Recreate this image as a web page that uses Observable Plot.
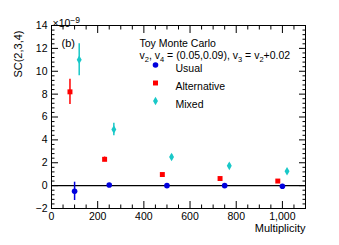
<!DOCTYPE html>
<html><head><meta charset="utf-8">
<script src="https://cdn.jsdelivr.net/npm/d3@7"></script>
<script src="https://cdn.jsdelivr.net/npm/@observablehq/plot@0.6"></script>
<style>body{margin:0;background:#fff}</style>
</head><body><div id="chart"></div>
<script>
const usualX = [100, 250, 500, 750, 1000];
const usualY = [-0.5, 0.05, 0.0, 0.0, -0.05];
const usualErr = [0.8, 0.08, 0.06, 0.06, 0.06];
const altX = [80, 230, 480, 730, 980];
const altY = [8.2, 2.3, 0.97, 0.62, 0.4];
const altErr = [1.1, 0.2, 0.08, 0.06, 0.06];
const mixX = [120, 270, 520, 770, 1020];
const mixY = [11.0, 4.9, 2.5, 1.73, 1.26];
const mixErr = [1.4, 0.55, 0.2, 0.2, 0.15];
const xTicks = [0, 200, 400, 600, 800, 1000];
const yTicks = [-2, 0, 2, 4, 6, 8, 10, 12, 14];
const seriesNames = ["Usual", "Alternative", "Mixed"];
const seriesColors = ["#0000dd", "#ff0000", "#19c8c8"];
const seriesSymbols = ["circle", "square", "diamond"];

const xMinor = d3.range(0, 1101, 50).filter(v => v % 200 !== 0);
const yMinor = d3.range(-20, 141, 4).map(v => v / 10).filter(v => Math.abs(v % 2) > 1e-9);

function rows(xs, ys, es, name) { return xs.map((x, i) => ({x, y: ys[i], e: es[i], s: name})); }
const data = [
  ...rows(usualX, usualY, usualErr, "Usual"),
  ...rows(altX, altY, altErr, "Alternative"),
  ...rows(mixX, mixY, mixErr, "Mixed")
];
const font = "Liberation Sans, Arial, Helvetica, sans-serif";
const color = {domain: seriesNames, range: seriesColors};

const marks = [
  Plot.ruleY([0], {stroke: "black", strokeWidth: 1.3}),
  Plot.ruleX(data, {x: "x", y1: d => d.y - d.e, y2: d => d.y + d.e, stroke: "s", strokeWidth: 1.5}),
  Plot.dot(data.filter(d => d.s === "Usual"), {x: "x", y: "y", fill: "s", r: 2.8, symbol: "circle", stroke: null}),
  Plot.dot(data.filter(d => d.s === "Alternative"), {x: "x", y: "y", fill: "s", r: 2.8, symbol: "square", stroke: null}),
  Plot.dot(data.filter(d => d.s === "Mixed"), {x: "x", y: "y", fill: "s", r: 2.6, symbol: "diamond", stroke: null}),
  Plot.frame({stroke: "black", strokeWidth: 1}),
  // axes: labels
  Plot.axisX({anchor: "bottom", ticks: xTicks, tickSize: 0, tickPadding: 4, label: null, fontSize: 10.5}),
  Plot.axisY({anchor: "left", ticks: yTicks, tickSize: 0, tickPadding: 4, label: null, fontSize: 10.5}),
  // major/minor ticks inward, mirrored
  Plot.axisX({anchor: "bottom", ticks: xTicks, tickSize: -7, tickFormat: () => "", label: null}),
  Plot.axisX({anchor: "bottom", ticks: xMinor, tickSize: -3.5, tickFormat: () => "", label: null}),
  Plot.axisX({anchor: "top", ticks: xTicks, tickSize: -7, tickFormat: () => "", label: null}),
  Plot.axisX({anchor: "top", ticks: xMinor, tickSize: -3.5, tickFormat: () => "", label: null}),
  Plot.axisY({anchor: "left", ticks: yTicks, tickSize: -7, tickFormat: () => "", label: null}),
  Plot.axisY({anchor: "left", ticks: yMinor, tickSize: -3.5, tickFormat: () => "", label: null}),
  Plot.axisY({anchor: "right", ticks: yTicks, tickSize: -7, tickFormat: () => "", label: null}),
  Plot.axisY({anchor: "right", ticks: yMinor, tickSize: -3.5, tickFormat: () => "", label: null}),
  // axis titles
  Plot.text(["Multiplicity"], {frameAnchor: "bottom-right", dy: 23, textAnchor: "end", fontSize: 11}),
  Plot.text(["SC(2,3,4)"], {frameAnchor: "top-left", dx: -37, dy: 5, rotate: -90, textAnchor: "end", fontSize: 11}),
  Plot.text(["×10-9"], {frameAnchor: "top-left", dx: 1, dy: -6, textAnchor: "start", fontSize: 10.5, className: "exp"}),
  Plot.text(["(b)"], {frameAnchor: "top-left", dx: 10, dy: 14, textAnchor: "start", fontSize: 11}),
  // legend
  Plot.text(["Toy Monte Carlo"], {frameAnchor: "top-left", dx: 88, dy: 14, textAnchor: "start", fontSize: 10.5}),
  Plot.text(["v2"], {frameAnchor: "top-left", dx: 88, dy: 26.5, textAnchor: "start", fontSize: 10.5, className: "vline"}),
  ...seriesNames.map((n, i) => Plot.dot([n], {frameAnchor: "top-left", dx: 104, dy: 39.5 + 18 * i, fill: d => d, r: i === 2 ? 2.6 : 2.8, symbol: seriesSymbols[i]})),
  ...seriesNames.map((n, i) => Plot.text([n], {frameAnchor: "top-left", dx: 124, dy: 39.5 + 18 * i, textAnchor: "start", fontSize: 10.5}))
];

const chart = Plot.plot({
  width: 339, height: 245,
  marginLeft: 51, marginRight: 34, marginTop: 25, marginBottom: 37,
  style: {fontFamily: font, fontSize: "10.5px", color: "black", background: "white"},
  x: {domain: [0, 1100]},
  y: {domain: [-2, 14]},
  color,
  marks
});
document.getElementById("chart").appendChild(chart);

const svg = d3.select(chart);
svg.selectAll("g.exp text").each(function() {
  const t = d3.select(this); t.text(null);
  t.append("tspan").text("×10");
  t.append("tspan").attr("dy", "-4px").attr("font-size", "8.5px").text("−9");
});
svg.selectAll("g.vline text").each(function() {
  const t = d3.select(this); t.text(null);
  const parts = [["v", false], ["2", true], [", v", false], ["4", true], [" = (0.05,0.09), v", false], ["3", true], [" = v", false], ["2", true], ["+0.02", false]];
  for (const [s, isSub] of parts) {
    const ts = t.append("tspan").text(s);
    if (isSub) ts.attr("dy", "3px").attr("font-size", "7.5px");
    else if (s !== "v") ts.attr("dy", "-3px");
  }
});
</script></body></html>
